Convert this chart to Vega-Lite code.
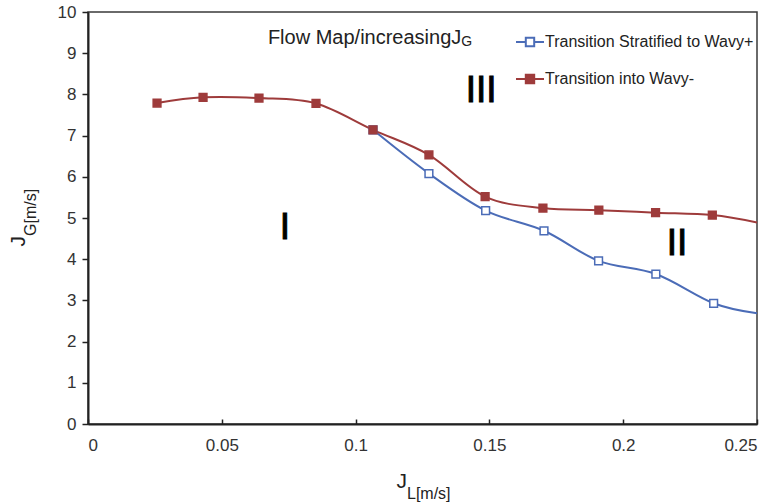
{
  "$schema": "https://vega.github.io/schema/vega-lite/v6.json",
  "autosize": "none",
  "width": 669,
  "height": 412,
  "padding": {"left": 88, "top": 12, "right": 22, "bottom": 80},
  "background": "white",
  "config": {
    "font": "Liberation Sans",
    "view": {"stroke": "#3a3a3a", "strokeWidth": 1.5},
    "axis": {"grid": false, "domainColor": "#222", "domainWidth": 2, "tickColor": "#222", "tickWidth": 1.5, "labelFont": "Liberation Sans", "labelFontSize": 17, "labelColor": "#333", "title": null}
  },
  "datasets": {
    "main": [
      {"series": "Transition Stratified to Wavy+", "jl": 0.1065, "jg": 7.14},
      {"series": "Transition Stratified to Wavy+", "jl": 0.1274, "jg": 6.08},
      {"series": "Transition Stratified to Wavy+", "jl": 0.1486, "jg": 5.18},
      {"series": "Transition Stratified to Wavy+", "jl": 0.1704, "jg": 4.69},
      {"series": "Transition Stratified to Wavy+", "jl": 0.1908, "jg": 3.96},
      {"series": "Transition Stratified to Wavy+", "jl": 0.2122, "jg": 3.64},
      {"series": "Transition Stratified to Wavy+", "jl": 0.2338, "jg": 2.93},
      {"series": "Transition Stratified to Wavy+", "jl": 0.25, "jg": 2.69},
      {"series": "Transition into Wavy-", "jl": 0.0258, "jg": 7.79},
      {"series": "Transition into Wavy-", "jl": 0.0430, "jg": 7.93},
      {"series": "Transition into Wavy-", "jl": 0.0639, "jg": 7.91},
      {"series": "Transition into Wavy-", "jl": 0.0852, "jg": 7.78},
      {"series": "Transition into Wavy-", "jl": 0.1065, "jg": 7.14},
      {"series": "Transition into Wavy-", "jl": 0.1274, "jg": 6.53},
      {"series": "Transition into Wavy-", "jl": 0.1484, "jg": 5.52},
      {"series": "Transition into Wavy-", "jl": 0.1700, "jg": 5.24},
      {"series": "Transition into Wavy-", "jl": 0.1909, "jg": 5.19},
      {"series": "Transition into Wavy-", "jl": 0.2121, "jg": 5.13},
      {"series": "Transition into Wavy-", "jl": 0.2333, "jg": 5.07},
      {"series": "Transition into Wavy-", "jl": 0.25, "jg": 4.89}
    ]
  },
  "encoding": {
    "x": {"field": "jl", "type": "quantitative", "scale": {"domain": [0, 0.25], "nice": false, "zero": false},
      "axis": {"values": [0, 0.05, 0.1, 0.15, 0.2, 0.25], "format": ".2~f", "tickSize": -5, "labelPadding": 18}},
    "y": {"field": "jg", "type": "quantitative", "scale": {"domain": [0, 10], "nice": false},
      "axis": {"values": [0,1,2,3,4,5,6,7,8,9,10], "tickSize": 6, "labelPadding": 6}}
  },
  "layer": [
    {
      "data": {"name": "main"},
      "mark": {"type": "line", "interpolate": "cardinal", "strokeWidth": 2},
      "encoding": {
        "stroke": {"field": "series", "type": "nominal",
          "scale": {"domain": ["Transition Stratified to Wavy+", "Transition into Wavy-"], "range": ["#4B6CB7", "#9E3B3B"]},
          "legend": {"title": null, "orient": "none", "legendX": 427, "legendY": 15, "padding": 0,
            "symbolType": "M-1,0H-0.3M0.3,0H1M-0.3,-0.3H0.3V0.3H-0.3Z", "symbolSize": 784, "symbolStrokeWidth": 2,
            "labelFont": "Liberation Sans", "labelFontSize": 16, "labelColor": "#222", "rowPadding": 13, "labelOffset": 0, "labelLimit": 400}}
      }
    },
    {
      "data": {"name": "main"},
      "transform": [{"filter": "datum.jl < 0.25"}],
      "mark": {"type": "point", "shape": "square", "size": 60, "strokeWidth": 1.5, "opacity": 1},
      "encoding": {
        "stroke": {"field": "series", "type": "nominal"},
        "fill": {"field": "series", "type": "nominal",
          "scale": {"domain": ["Transition Stratified to Wavy+", "Transition into Wavy-"], "range": ["white", "#9E3B3B"]},
          "legend": {"title": null, "orient": "none", "legendX": 427, "legendY": 15, "padding": 0,
            "symbolType": "M-1,0H-0.3M0.3,0H1M-0.3,-0.3H0.3V0.3H-0.3Z", "symbolSize": 784, "symbolStrokeWidth": 2,
            "labelFont": "Liberation Sans", "labelFontSize": 16, "labelColor": "#222", "rowPadding": 13, "labelOffset": 0, "labelLimit": 400}}
      }
    },
    {
      "data": {"values": [{"jl": 0.1469, "jg": 8.09, "t": "III"}, {"jl": 0.0736, "jg": 4.75, "t": "I"}, {"jl": 0.2201, "jg": 4.37, "t": "II"}]},
      "mark": {"type": "text", "fontSize": 37, "font": "Liberation Sans", "baseline": "middle", "align": "center", "color": "black", "stroke": "black", "strokeWidth": 1},
      "encoding": {"text": {"field": "t"}}
    },
    {
      "data": {"values": [{"jl": 0.1395, "jg": 9.223, "t": "Flow Map/increasingJ"}]},
      "mark": {"type": "text", "fontSize": 20, "font": "Liberation Sans", "baseline": "alphabetic", "align": "right", "color": "#222"},
      "encoding": {"text": {"field": "t"}}
    },
    {
      "data": {"values": [{"jl": 0.1395, "jg": 9.223, "t": "G"}]},
      "mark": {"type": "text", "fontSize": 14, "font": "Liberation Sans", "baseline": "alphabetic", "align": "left", "dy": 2, "color": "#222"},
      "encoding": {"text": {"field": "t"}}
    },
    {
      "data": {"values": [{"jl": 0.1192, "jg": -1.553, "t": "J"}]},
      "mark": {"type": "text", "fontSize": 21, "font": "Liberation Sans", "baseline": "alphabetic", "align": "right", "color": "#222"},
      "encoding": {"text": {"field": "t"}}
    },
    {
      "data": {"values": [{"jl": 0.1192, "jg": -1.553, "t": "L[m/s]"}]},
      "mark": {"type": "text", "fontSize": 16, "font": "Liberation Sans", "baseline": "alphabetic", "align": "left", "dy": 11, "color": "#222"},
      "encoding": {"text": {"field": "t"}}
    },
    {
      "data": {"values": [{"jl": -0.02354, "jg": 4.563, "t": "J"}]},
      "mark": {"type": "text", "fontSize": 21, "font": "Liberation Sans", "baseline": "alphabetic", "align": "right", "angle": 270, "color": "#222"},
      "encoding": {"text": {"field": "t"}}
    },
    {
      "data": {"values": [{"jl": -0.02354, "jg": 4.563, "t": "G[m/s]"}]},
      "mark": {"type": "text", "fontSize": 16, "font": "Liberation Sans", "baseline": "alphabetic", "align": "left", "angle": 270, "dy": 11, "color": "#222"},
      "encoding": {"text": {"field": "t"}}
    }
  ]
}
